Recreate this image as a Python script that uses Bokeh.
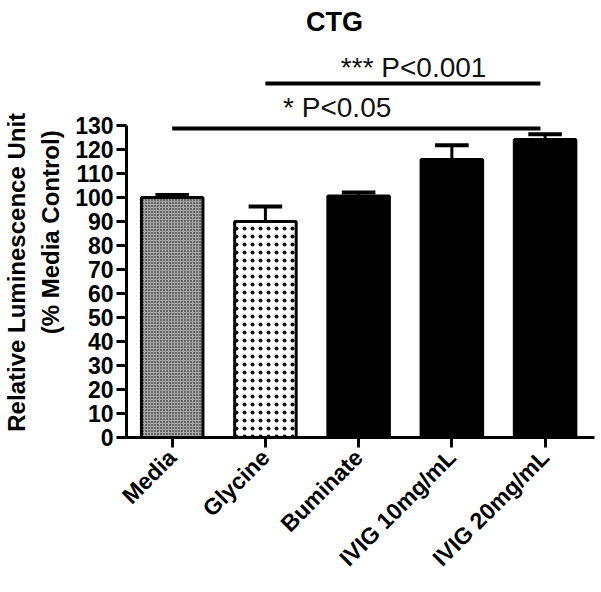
from bokeh.plotting import figure
from bokeh.models import Range1d, FixedTicker, ColumnDataSource
from bokeh.core.properties import value
from bokeh.embed import file_html
from bokeh.resources import INLINE
import math

# ---- data ----
categories = ["Media", "Glycine", "Buminate", "IVIG 10mg/mL", "IVIG 20mg/mL"]
means = [100.0, 90.0, 100.6, 115.8, 124.2]
errors = [1.0, 6.2, 1.5, 6.0, 2.2]
y_ticks = list(range(0, 131, 10))

sig_starts = [0.0, 1.0]
sig_ends = [3.95, 3.95]
sig_levels = [128.8, 147.5]
sig_labels = ["* P<0.05", "*** P<0.001"]
sig_label_x = [1.77, 2.59]
sig_label_y = [137.3, 154.0]

title_text = "CTG"
y_label_1 = "Relative Luminescence Unit"
y_label_2 = "(% Media Control)"

# ---- styles ----
FONT = "Liberation Sans"
fills = ["#a8a8a8", "white", "black", "black", "black"]
hatches = ["dot", "dot", " ", " ", " "]
hatch_scales = [3.0, 8.0, 6.0, 6.0, 6.0]
hatch_weights = [2.8, 12.0, 1.0, 1.0, 1.0]

FRAME_W, FRAME_H = 468, 437
px_per_unit = 2.4
y_end = FRAME_H / px_per_unit

xs = list(range(len(categories)))

p = figure(frame_width=FRAME_W, frame_height=FRAME_H, output_backend="svg", toolbar_location=None,
           x_range=Range1d(-0.49, 4.53), y_range=Range1d(0, y_end),
           min_border_left=124, min_border_right=5,
           min_border_top=0, min_border_bottom=0)
p.outline_line_color = None
p.xgrid.grid_line_color = None
p.ygrid.grid_line_color = None
p.background_fill_color = "white"
p.border_fill_color = "white"

bars = ColumnDataSource(dict(x=xs, top=means, err_top=[m + e for m, e in zip(means, errors)],
                             fill=fills, hatch=hatches, hs=hatch_scales, hw=hatch_weights))

# error bars (upper only)
p.segment(x0="x", y0="top", x1="x", y1="err_top", source=bars, line_color="black", line_width=3)
cap = 0.18
p.segment(x0=[x - cap for x in xs], y0=bars.data["err_top"], x1=[x + cap for x in xs],
          y1=bars.data["err_top"], line_color="black", line_width=4)

p.vbar(x="x", top="top", bottom=0, width=0.66, source=bars,
       fill_color="fill", line_color="black", line_width=3,
       hatch_pattern="hatch", hatch_scale="hs", hatch_weight="hw", hatch_color="black")

# significance lines and texts
p.segment(x0=sig_starts, y0=sig_levels, x1=sig_ends, y1=sig_levels, line_color="black", line_width=4)
p.text(x=sig_label_x, y=sig_label_y, text=sig_labels, text_font=value(FONT),
       text_font_size="28px", text_align="center", text_baseline="middle", text_color="#111111")

# title
p.text(x=[1.74], y=[173.3], text=[title_text], text_font=value(FONT), text_font_size="27px",
       text_font_style="bold", text_align="center", text_baseline="middle", text_color="black")

# axes
for ax in (p.xaxis[0], p.yaxis[0]):
    ax.axis_line_width = 3
    ax.axis_line_color = "black"
    ax.major_tick_line_width = 3
    ax.major_tick_line_color = "black"
    ax.major_tick_out = 10
    ax.major_tick_in = 0
    ax.minor_tick_line_color = None
    ax.major_label_text_font = FONT
    ax.major_label_text_font_style = "bold"
    ax.major_label_text_color = "black"

NB = "\u00a0"
p.yaxis.ticker = FixedTicker(ticks=y_ticks)
p.yaxis.bounds = (0, 130)
p.yaxis.major_label_text_font_size = "23px"
p.yaxis.major_label_standoff = 3
p.yaxis.axis_label = y_label_1 + NB * 16 + "\n" + y_label_2 + NB * 4
p.yaxis.axis_label_text_font = FONT
p.yaxis.axis_label_text_font_style = "bold"
p.yaxis.axis_label_text_font_size = "24px"
p.yaxis.axis_label_text_color = "black"
p.yaxis.axis_label_text_line_height = 1.25
p.yaxis.axis_label_standoff = 8

p.xaxis.ticker = FixedTicker(ticks=xs)
p.xaxis.major_label_overrides = {i: c for i, c in zip(xs, categories)}
p.xaxis.major_label_orientation = math.pi / 4
p.xaxis.major_label_text_font_size = "23px"
p.xaxis.major_label_standoff = 6

open("out.html", "w").write(file_html(p, INLINE))
